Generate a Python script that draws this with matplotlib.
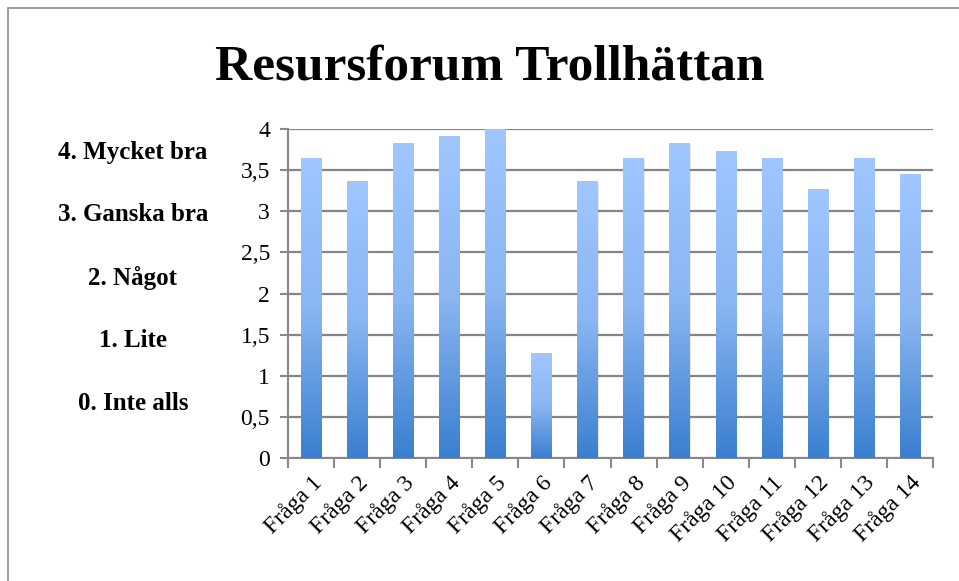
import numpy as np
import matplotlib.pyplot as plt
from matplotlib.patches import Rectangle
from matplotlib.colors import LinearSegmentedColormap

questions = ["Fråga %d" % i for i in range(1, 15)]
scores = [3.64, 3.36, 3.82, 3.91, 4.0, 1.27, 3.36, 3.64, 3.82, 3.73, 3.64, 3.27, 3.64, 3.45]
y_ticks = [0, 0.5, 1, 1.5, 2, 2.5, 3, 3.5, 4]
y_labels = ["0", "0,5", "1", "1,5", "2", "2,5", "3", "3,5", "4"]
scale_names = ["4. Mycket bra", "3. Ganska bra", "2. Något", "1. Lite", "0. Inte alls"]

serif = ["Liberation Serif", "DejaVu Serif"]
plt.rcParams['font.family'] = serif

fig = plt.figure(figsize=(9.59, 5.81), dpi=100)
ax = fig.add_axes([288/959, 1 - 458/581, 645/959, 329/581])

# frame around the chart area
fig.patches.append(Rectangle((8/959, -0.1), 1.2, (573/581) + 0.1, transform=fig.transFigure,
                             fill=False, edgecolor="#8c8c8c", lw=1.2))

x = np.arange(len(questions))
bars = ax.bar(x, scores, width=0.44, color="none", zorder=3)

cmap = LinearSegmentedColormap.from_list("blu", ["#3a7fcf", "#8ab6f2", "#a0c6ff"])
grad = np.linspace(0, 1, 256).reshape(-1, 1)
for b in bars:
    x0, w, h = b.get_x(), b.get_width(), b.get_height()
    # soft shadow
    ax.add_patch(Rectangle((x0 + 0.02, 0), w, h - 0.005, color="#000000", alpha=0.08, lw=0, zorder=2))
    ax.imshow(grad, extent=(x0, x0 + w, 0, h), origin="lower", cmap=cmap, aspect="auto", zorder=3)

ax.set_xlim(-0.5, len(questions) - 0.5)
ax.set_ylim(0, 4)

ax.set_yticks(y_ticks)
ax.set_yticklabels(y_labels, fontsize=17)
ax.yaxis.grid(True, color="#858585", lw=1.6, zorder=1)
ax.set_axisbelow(True)

ax.set_xticks(np.arange(-0.5, len(questions)), minor=False)
ax.set_xticklabels([])
ax.set_xticks(x, minor=True)
ax.set_xticklabels(questions, minor=True, rotation=45, ha="right", rotation_mode="anchor", fontsize=17)
ax.tick_params(axis="x", which="minor", length=0, pad=10)
ax.tick_params(axis="x", which="major", length=7, width=1.5, color="#888888", direction="out")
ax.tick_params(axis="y", length=6, width=1.5, color="#888888", direction="out", pad=7)

for s in ["top", "right"]:
    ax.spines[s].set_visible(False)
for s in ["left", "bottom"]:
    ax.spines[s].set_color("#888888")
    ax.spines[s].set_linewidth(1.5)

fig.text(490/959, 1 - 68/581, "Resursforum Trollhättan", ha="center", va="center",
         fontsize=37, fontweight="bold")

for i, name in enumerate(scale_names):
    fig.text(133/959, 1 - (152 + i * 62.8)/581, name, ha="center", va="center",
             fontsize=18, fontweight="bold")

fig.savefig("out.png", dpi=100)
